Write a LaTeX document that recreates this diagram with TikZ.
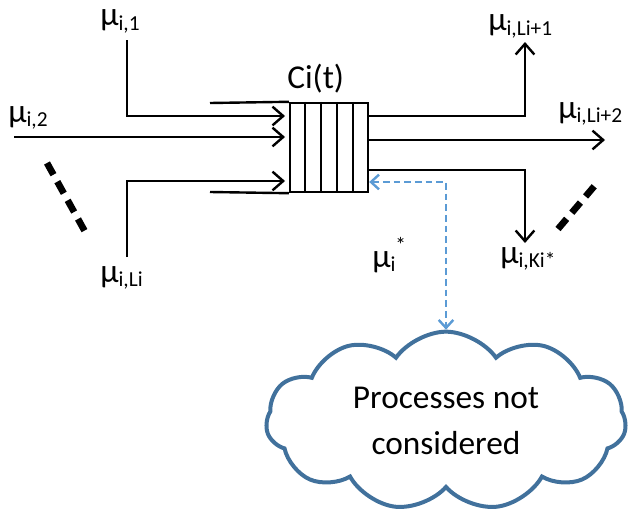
\documentclass[tikz,border=0pt]{standalone}
\usepackage{fontspec}
\setmainfont{Carlito}
\usetikzlibrary{arrows.meta,shapes.symbols,calc}
\definecolor{cloudblue}{HTML}{41719C}
\definecolor{linkblue}{HTML}{5B9BD5}
\newcommand{\musub}[1]{μ\raisebox{-3.5pt}{\fontsize{16}{16}\selectfont #1}}
\tikzset{
  flow/.style={line width=1.8pt, -{Straight Barb[length=8pt,width=14pt]}},
  rail/.style={line width=1.8pt},
  lab/.style={font=\fontsize{25}{28}\selectfont, inner sep=0pt, anchor=base west},
  queue/.style={draw, line width=1.8pt, fill=white, minimum width=58.5pt, minimum height=66.75pt, inner sep=0pt},
  etc/.style={line width=5pt, dash pattern=on 10pt off 6pt},
  link/.style={draw=linkblue, line width=1.8pt, dash pattern=on 5pt off 3pt, {Straight Barb[length=6pt,width=11pt]}-{Straight Barb[length=6pt,width=11pt]}}
}
\begin{document}
\begin{tikzpicture}[x=0.75pt, y=-0.75pt]
    \useasboundingbox (0,0) rectangle (629,514);

    % queue of the cell
    \node[queue] (Q) at (329,147.5) {};
    \foreach \k in {1,...,4}
      \draw[line width=1.8pt] ($(Q.north west)!\k/5!(Q.north east)$) -- ($(Q.south west)!\k/5!(Q.south east)$);
    \node[lab] (ct) at (287,88) {Ci(t)};

    % entrance rails
    \coordinate (r1) at (210,103);
    \coordinate (r2) at (210,192);
    \draw[rail] (r1) -- (Q.north west);
    \draw[rail] (r2) -- (Q.south west);

    % incoming flows
    \coordinate (i1) at (127,40);
    \coordinate (i2) at (14,137);
    \coordinate (i3) at (127,257);
    \coordinate (e1) at (285,116);
    \coordinate (e2) at (285,137);
    \coordinate (e3) at (285,181);
    \draw[flow] (i1) |- (e1);
    \draw[flow] (i2) -- (e2);
    \draw[flow] (i3) |- (e3);
    \node[lab] (m1) at (100,26) {\musub{i,1}};
    \node[lab] (m2) at (8,122) {\musub{i,2}};
    \node[lab] (m3) at (100,282) {\musub{i,Li}};
    \coordinate (d1) at (47,163);
    \coordinate (d2) at (88,237);
    \draw[etc] (d1) -- (d2);

    % outgoing flows
    \coordinate (o1) at (525,42);
    \coordinate (o2) at (605,140);
    \coordinate (o3) at (525,243);
    \draw[flow] (Q.east |- 0,116) -| (o1);
    \draw[flow] (Q.east |- 0,140) -- (o2);
    \draw[flow] (Q.east |- 0,170) -| (o3);
    \node[lab] (n1) at (488,31) {\musub{i,Li+1}};
    \node[lab] (n2) at (558,118) {\musub{i,Li+2}};
    \node[lab] (n3) at (500,263) {\musub{i,Ki*}};
    \coordinate (d3) at (558,229);
    \coordinate (d4) at (597,183);
    \draw[etc] (d3) -- (d4);

    % processes outside the model
    \node[cloud, draw=cloudblue, line width=3pt, fill=white, cloud puffs=11, cloud puff arc=110, aspect=2,
          minimum width=270pt, minimum height=134pt, align=center,
          font=\fontsize{25}{35}\selectfont] (C) at (446,421) {Processes not\\considered};
    \draw[link] (Q.east |- 0,182) -| (C.north);
    \node[lab] (ms) at (372,267) {μ\raisebox{-3.5pt}{\fontsize{16}{16}\selectfont i}\raisebox{11pt}{\fontsize{16}{16}\selectfont *}};

\end{tikzpicture}
\end{document}
